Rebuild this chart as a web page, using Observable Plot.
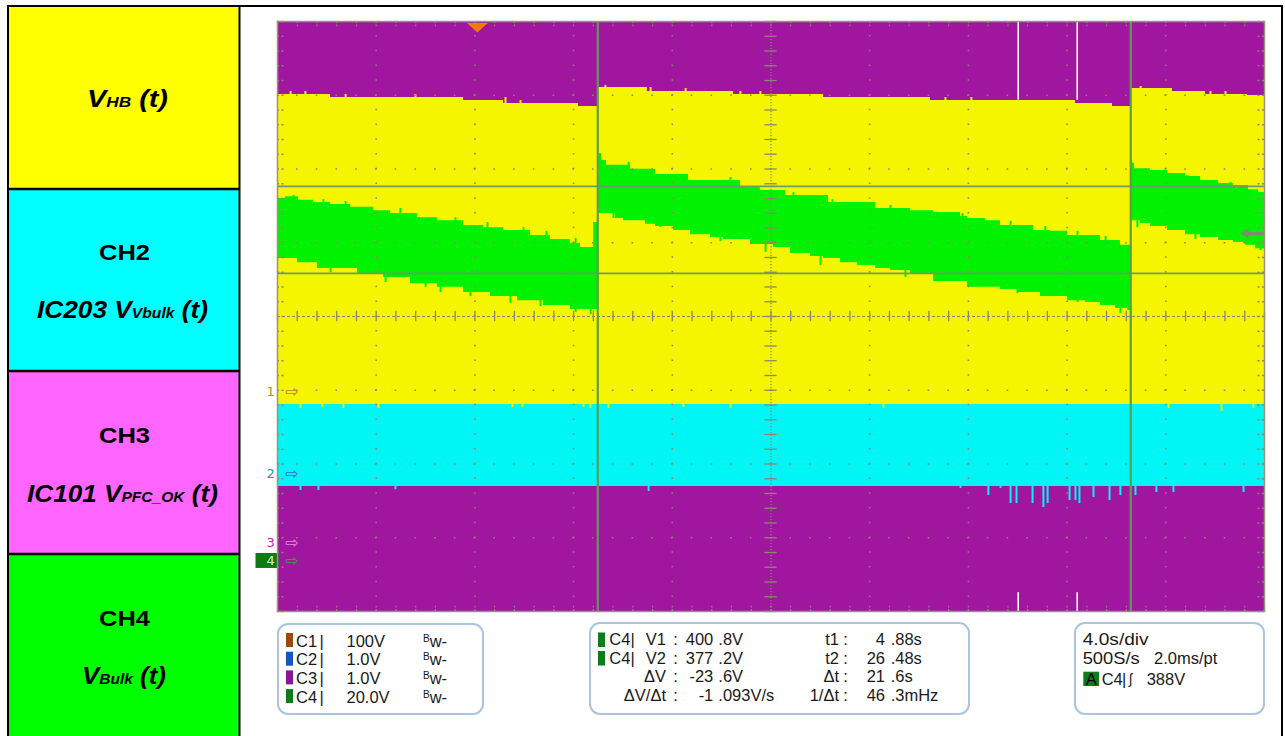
<!DOCTYPE html>
<html>
<head>
<meta charset="utf-8">
<script src="https://cdn.jsdelivr.net/npm/d3@7"></script>
<script src="https://cdn.jsdelivr.net/npm/@observablehq/plot@0.6"></script>
<style>
html, body { margin: 0; padding: 0; background: #ffffff; }
#root { position: relative; width: 1285px; height: 736px; overflow: hidden; }
#scope { position: absolute; left: 250px; top: 15px; width: 1020px; height: 600px; }
#scope svg { display: block; max-width: none; }
</style>
</head>
<body>
<div id="root"><div id="scope"></div></div>
<script>
// ---------------- scope settings ----------------
const timeStart = -8.1;          // s at left edge
const secPerDiv = 4.0;
const divsX = 10, divsY = 8;
const channelNames = ["C1", "C2", "C3", "C4"];
const channelScaleText = ["100V", "1.0V", "1.0V", "20.0V"];
const voltsPerDiv = [100, 1.0, 1.0, 20.0];
const channelZeroDiv = [-1.017, -2.129, -3.064, -3.308];
const c4CenterVolts = 365.5;

// ---------------- C1  V_HB envelope (V) ----------------
const vhbTime = [-8.10, -5.95, -0.56, 1.06, 4.10, 4.88, 6.89, 10.38, 14.03, 18.36, 24.24, 25.74, 26.48, 28.17, 29.51, 31.21, 31.90];
const vhbTop  = [402.7, 398.6, 394.6, 390.5, 386.4, 412.2, 406.8, 402.7, 398.6, 394.6, 390.5, 386.4, 410.9, 406.8, 402.7, 401.4, 401.4];
const vhbLow = -17.6;
const vhbTopSpikeTime  = [-7.57, -6.97, -5.34, -2.51, 1.14, 1.75, 5.19, 7.02, 8.44, 10.66, 11.47, 18.97, 20.02, 26.88, 29.71, 30.32];
const vhbTopSpikeVolts = [406.8, 406.8, 402.7, 402.7, 398.6, 394.6, 415.0, 412.2, 410.9, 406.8, 406.8, 398.6, 398.6, 413.6, 406.8, 406.8];
const vhbLowSpikeTime  = [-7.17, -6.28, -5.43, -4.01, 1.42, 1.83, 4.30, 4.58, 5.31, 8.35, 10.26, 16.46, 28.01, 30.16, 31.45];
const vhbLowSpikeVolts = [-23.0, -21.7, -23.0, -23.0, -21.7, -21.7, -21.7, -23.0, -23.0, -21.7, -23.0, -23.0, -23.0, -27.0, -23.0];

// ---------------- C2  IC203 V_Vbulk envelope (V) ----------------
const c2High = 1.0, c2Low = -0.176;
const c2SpikeTime  = [-7.17, -6.44, -3.32, 6.94, 19.58, 20.71, 21.20, 21.61, 21.85, 22.50, 22.94, 23.11, 24.00, 24.24, 24.40, 24.97, 25.62, 26.06, 26.67, 27.52, 28.21, 31.05];
const c2SpikeVolts = [-0.23, -0.23, -0.22, -0.244, -0.203, -0.298, -0.203, -0.407, -0.407, -0.407, -0.461, -0.407, -0.366, -0.366, -0.407, -0.325, -0.366, -0.298, -0.298, -0.257, -0.257, -0.257];

// ---------------- C4  V_Bulk envelope (V) ----------------
const bulkTime = [-8.10,-7.78,-7.29,-7.25,-6.64,-6.48,-5.95,-5.14,-4.86,-4.21,-3.80,-3.52,-2.71,-2.43,-1.62,-0.56,0.25,0.53,1.06,1.63,2.15,2.68,2.96,3.77,4.18,4.71,
  4.88,5.03,5.23,5.60,5.92,6.21,6.81,7.22,7.95,8.56,8.64,9.45,9.97,10.66,11.07,11.47,12.00,12.49,12.69,13.50,14.03,14.23,14.72,15.41,16.14,16.74,17.55,18.49,19.58,19.86,20.59,21.20,21.89,22.54,22.82,23.23,23.92,24.65,25.25,25.86,26.06,26.35,
  26.48,26.63,26.88,27.28,27.97,28.70,29.31,30.04,30.64,31.13,31.25,31.54,31.66,31.90];
const bulkHigh = [397.5,398.0,398.0,397.0,396.4,396.4,395.9,395.1,395.1,394.2,394.2,393.4,393.4,392.3,391.5,390.2,389.6,389.6,388.8,388.8,387.5,387.5,386.4,385.3,384.2,391.0,
  409.7,407.8,406.5,406.5,406.5,405.4,405.4,404.0,404.0,402.4,402.4,402.4,402.4,400.5,400.5,399.7,399.7,398.3,398.3,398.3,398.3,396.4,396.4,396.4,394.8,394.8,394.2,393.7,392.6,392.1,391.5,390.2,390.2,388.8,388.8,388.6,387.5,387.5,386.1,386.1,384.8,384.8,
  407.0,405.6,405.6,405.1,404.3,403.5,402.4,401.6,401.0,401.0,399.9,399.9,399.1,399.1];
const bulkLow = [381.2,381.2,380.1,380.1,380.1,378.5,378.5,378.5,376.9,376.9,376.1,376.1,374.4,374.4,373.4,372.0,372.0,370.9,370.9,369.8,369.8,368.5,368.5,367.4,367.4,367.4,
  393.4,393.4,393.4,392.1,391.5,391.5,390.5,389.9,388.8,388.8,387.7,386.9,386.4,386.4,385.0,385.0,384.2,384.2,382.6,381.8,381.2,381.2,380.1,379.3,378.5,378.0,376.9,375.0,375.0,373.4,373.4,372.8,372.0,372.0,370.9,370.9,369.8,369.3,368.5,367.7,367.7,367.1,
  391.5,391.5,390.7,389.9,388.8,387.7,386.9,386.1,385.6,384.8,384.8,383.9,383.9,383.9];
const bulkHighSpikeTime  = [-7.45,-6.24,-5.34,-3.12,-0.89,0.41,1.87,2.80,3.98,6.13,10.26,12.81,14.39,16.74,19.66,21.61,23.02,24.32,25.46,26.51,27.16,28.78,30.52];
const bulkHighSpikeVolts = [398.3,397.2,396.7,394.8,392.3,391.0,389.6,388.6,386.7,407.3,403.2,399.1,397.2,395.6,393.4,391.3,389.9,388.6,387.2,407.3,405.4,403.7,401.8];
const bulkLowSpikeTime  = [-5.95,-3.72,-2.10,-1.49,-0.28,1.34,2.56,3.98,4.59,5.52,7.42,9.85,11.68,13.91,17.35,21.89,24.32,26.06,26.75,29.10,31.74];
const bulkLowSpikeVolts = [377.4,374.7,373.4,372.0,370.9,369.0,368.2,366.6,366.0,392.1,389.6,385.8,382.9,379.3,376.1,371.7,369.3,366.3,389.6,386.4,383.4];

// ---------------- glitches, cursors, trigger ----------------
const glitchTimes = [21.92, 24.31];
const glitchTopVolts = 395;     // C1
const glitchBottomVolts = -0.68; // C3
const cursorTimes = [4.88, 26.48];
const cursorVolts = [400.8, 377.2];
const triggerTime = 0;
const triggerLevel = 388;

// ---------------- readout texts ----------------
const measLabels = ["V1", "V2", "\u0394V", "\u0394V/\u0394t"];
const measValues = ["400 .8V", "377 .2V", "-23 .6V", "-1 .093V/s"];
const timeLabels = ["t1", "t2", "\u0394t", "1/\u0394t"];
const timeValues = ["4 .88s", "26 .48s", "21 .6s", "46 .3mHz"];
const timebaseTexts = ["4.0s/div", "500S/s", "2.0ms/pt"];
const triggerText = ["A", "C4", "388V"];
const panelTitles = ["", "CH2", "CH3", "CH4"];
const panelSignals = [["V", "HB", " (t)"], ["IC203 V", "Vbulk", " (t)"], ["IC101 V", "PFC_OK", " (t)"], ["V", "Bulk", " (t)"]];

// ---------------- helpers ----------------
const tEnd = timeStart + divsX * secPerDiv;
const yTop = divsY / 2;
const c1 = v => v / voltsPerDiv[0] + channelZeroDiv[0];
const c2 = v => v / voltsPerDiv[1] + channelZeroDiv[1];
const c3 = v => v / voltsPerDiv[2] + channelZeroDiv[2];
const c4 = v => (v - c4CenterVolts) / voltsPerDiv[3];
const zip = (T, V) => T.map((t, i) => ({t, v: V[i]}));

const vhb = zip(vhbTime, vhbTop);
const bulk = bulkTime.map((t, i) => ({t, hi: bulkHigh[i], lo: bulkLow[i]}));

const PURPLE = "#a0169e", YELLOW = "#f5f500", CYAN = "#00f5f5", GREEN = "#00f200", GRID = "#8a876f";
const minorX = d3.range(0, divsX * 5 + 1).map(i => timeStart + i * secPerDiv / 5);
const minorY = d3.range(0, divsY * 5 + 1).map(i => -yTop + i / 5);
const majorX = d3.range(1, divsX).filter(k => k !== divsX / 2).map(k => timeStart + k * secPerDiv);
const majorY = d3.range(1, divsY).filter(k => k !== divsY / 2).map(k => -yTop + k);
const centerT = timeStart + divsX / 2 * secPerDiv;

const triSymbol = {draw(ctx) { ctx.moveTo(-10.5, -4.5); ctx.lineTo(10.5, -4.5); ctx.lineTo(0, 5); ctx.closePath(); }};
const arrowSymbol = {draw(ctx) { ctx.moveTo(-12, 0); ctx.lineTo(-4, -5); ctx.lineTo(-4, -1.6); ctx.lineTo(12, -1.6); ctx.lineTo(12, 1.6); ctx.lineTo(-4, 1.6); ctx.lineTo(-4, 5); ctx.closePath(); }};
const boxSymbol = {draw(ctx) { ctx.rect(-11.5, -7.5, 23, 15); }};
const markerColors = ["#a89a00", "#1a96ac", "#c020c0", "#d8f0d8"];
const arrowColors = ["#c8783a", "#3a68d8", "#e888e8", "#3aa050"];

const plot = Plot.plot({
  width: 1020, height: 600,
  marginLeft: 27, marginRight: 6, marginTop: 6, marginBottom: 4,
  x: {domain: [timeStart, tEnd], axis: null},
  y: {domain: [-yTop, yTop], axis: null},
  color: {type: "identity"},
  style: {fontFamily: "DejaVu Sans", background: "transparent", overflow: "visible"},
  marks: [
    Plot.frame({fill: PURPLE}),
    // C2 cyan band
    Plot.areaY([timeStart, tEnd], {x: d => d, y1: c2(c2Low), y2: c2(c2High), fill: CYAN}),
    Plot.ruleX(zip(c2SpikeTime, c2SpikeVolts), {x: "t", y1: d => c2(d.v), y2: c2(c2Low + 0.03), stroke: CYAN, strokeWidth: 2}),
    // C1 yellow band
    Plot.areaY(vhb, {x: "t", y1: c1(vhbLow), y2: d => c1(d.v), curve: "step-after", fill: YELLOW}),
    Plot.ruleX(zip(vhbTopSpikeTime, vhbTopSpikeVolts), {x: "t", y1: d => c1(d.v), y2: d => c1(d.v - 16), stroke: YELLOW, strokeWidth: 2}),
    Plot.ruleX(zip(vhbLowSpikeTime, vhbLowSpikeVolts), {x: "t", y1: d => c1(d.v), y2: d => c1(d.v + 10), stroke: YELLOW, strokeWidth: 2}),
    // C4 green band
    Plot.areaY(bulk, {x: "t", y1: d => c4(d.lo), y2: d => c4(d.hi), curve: "step-after", fill: GREEN}),
    Plot.ruleX(zip(bulkHighSpikeTime, bulkHighSpikeVolts), {x: "t", y1: d => c4(d.v), y2: d => c4(d.v - 3), stroke: GREEN, strokeWidth: 2}),
    Plot.ruleX(zip(bulkLowSpikeTime, bulkLowSpikeVolts), {x: "t", y1: d => c4(d.v), y2: d => c4(d.v + 3), stroke: GREEN, strokeWidth: 2}),
    // glitches
    Plot.ruleX(glitchTimes, {x: d => d, y1: c1(glitchTopVolts), y2: yTop, stroke: "white", strokeWidth: 1.6}),
    Plot.ruleX(glitchTimes, {x: d => d, y1: c3(glitchBottomVolts), y2: -yTop, stroke: "white", strokeWidth: 1.6}),
    // graticule
    Plot.ruleX(majorX, {stroke: GRID, strokeWidth: 1.6, strokeDasharray: "1.6,13.15", strokeDashoffset: 0.8}),
    Plot.ruleY(majorY, {stroke: GRID, strokeWidth: 1.6, strokeDasharray: "1.6,18.14", strokeDashoffset: 0.8}),
    Plot.ruleY(minorY, {x1: timeStart, x2: timeStart + 0.3, stroke: GRID, strokeWidth: 1.3, strokeDasharray: "2,2.5"}),
    Plot.ruleY(minorY, {x1: tEnd, x2: tEnd - 0.3, stroke: GRID, strokeWidth: 1.3, strokeDasharray: "2,2.5"}),
    Plot.ruleX(minorX, {y1: yTop, y2: yTop - 0.07, stroke: GRID, strokeWidth: 1.3, strokeDasharray: "2,1.5"}),
    Plot.ruleX(minorX, {y1: -yTop, y2: -yTop + 0.07, stroke: GRID, strokeWidth: 1.3, strokeDasharray: "2,1.5"}),
    Plot.ruleX([centerT], {stroke: GRID, strokeWidth: 1.2, strokeDasharray: "1.2,1.8"}),
    Plot.ruleY([0], {stroke: GRID, strokeWidth: 1.2, strokeDasharray: "3,2"}),
    Plot.ruleY(minorY, {x1: centerT - 0.25, x2: centerT + 0.25, stroke: GRID, strokeWidth: 1.3}),
    Plot.ruleX(minorX, {y1: -0.07, y2: 0.07, stroke: GRID, strokeWidth: 1.3}),
    // cursors
    Plot.ruleY(cursorVolts, {y: d => c4(d), stroke: "#6b9c6a", strokeWidth: 1.6}),
    Plot.ruleX(cursorTimes, {x: d => d, stroke: "#59a04c", strokeWidth: 2.2}),
    // trigger markers
    Plot.dot([triggerTime], {x: d => d, frameAnchor: "top", dy: 6, symbol: triSymbol, fill: "#f27a00"}),
    Plot.dot([triggerLevel], {y: d => c4(d), frameAnchor: "right", dx: -12, symbol: arrowSymbol, fill: "#7d8b70"}),
    // channel markers
    Plot.dot([3], {y: i => channelZeroDiv[i], frameAnchor: "left", dx: -10.5, symbol: boxSymbol, fill: "#0d7a16"}),
    Plot.text([0, 1, 2, 3], {y: i => channelZeroDiv[i], frameAnchor: "left", dx: -11, text: i => String(i + 1), fill: i => markerColors[i], fontSize: 13}),
    Plot.text([0, 1, 2, 3], {y: i => channelZeroDiv[i], frameAnchor: "left", dx: 8, text: () => "\u21E8", fill: i => arrowColors[i], fontSize: 16}),
    Plot.frame({stroke: "#9b9479", strokeWidth: 1.5})
  ]
});
document.getElementById("scope").appendChild(plot);

// ---------------- surrounding layout (panels & readouts) ----------------
const ov = d3.select("#root").insert("svg", "#scope")
  .attr("width", 1285).attr("height", 736)
  .style("position", "absolute").style("left", "0px").style("top", "0px")
  .style("font-family", '"Liberation Sans", Arial, Helvetica, sans-serif');

const panelFill = ["#ffff00", "#00ffff", "#ff66ff", "#00ff00"];
const panelTop = [7, 189, 371, 554], panelBottom = [189, 371, 554, 736];
panelFill.forEach((c, i) => ov.append("rect").attr("x", 8).attr("y", panelTop[i]).attr("width", 231).attr("height", panelBottom[i] - panelTop[i]).attr("fill", c));
function line(x1, y1, x2, y2, w) { ov.append("line").attr("x1", x1).attr("y1", y1).attr("x2", x2).attr("y2", y2).attr("stroke", "#000").attr("stroke-width", w); }
line(7, 6, 1283, 6, 2); line(8, 5, 8, 736, 2); line(239.5, 5, 239.5, 736, 2); line(1282, 5, 1282, 736, 2);
[189, 371, 554].forEach(y => line(8, y, 240, y, 2.4));

function signalText(x, y, parts, len) {
  const t = ov.append("text").attr("x", x).attr("y", y).attr("text-anchor", "middle")
    .attr("font-weight", "bold").attr("font-style", "italic").attr("font-size", 23.5)
    .attr("textLength", len).attr("lengthAdjust", "spacingAndGlyphs").style("white-space", "pre");
  t.append("tspan").text(parts[0]);
  t.append("tspan").attr("font-size", 14).text(parts[1]);
  t.append("tspan").text(parts[2]);
}
function titleText(x, y, s, len) {
  ov.append("text").attr("x", x).attr("y", y).attr("text-anchor", "middle").attr("font-weight", "bold")
    .attr("font-size", 22).attr("textLength", len).attr("lengthAdjust", "spacingAndGlyphs").text(s);
}
signalText(127.5, 107, panelSignals[0], 81);
titleText(124.5, 260, panelTitles[1], 51); signalText(122.5, 318, panelSignals[1], 171);
titleText(124.5, 443, panelTitles[2], 51); signalText(122.5, 502, panelSignals[2], 191);
titleText(124.5, 626, panelTitles[3], 51); signalText(124, 684, panelSignals[3], 84);

function box(x, y, w, h) { ov.append("rect").attr("x", x).attr("y", y).attr("width", w).attr("height", h).attr("rx", 10).attr("fill", "#fff").attr("stroke", "#aac4e2").attr("stroke-width", 2); }
function txt(x, y, s, o = {}) {
  const t = ov.append("text").attr("x", x).attr("y", y).attr("font-size", o.size || 16.5).attr("fill", o.fill || "#1a1a1a").style("white-space", "pre").text(s);
  if (o.anchor) t.attr("text-anchor", o.anchor);
  if (o.len) t.attr("textLength", o.len).attr("lengthAdjust", "spacingAndGlyphs");
  return t;
}
const swatch = ["#9c4a0a", "#1456c0", "#8c1496", "#0c7c1c"];

// box 1: channel settings
box(278, 624, 205, 90);
channelNames.forEach((n, i) => {
  const yb = 646.5 + i * 18.7;
  ov.append("rect").attr("x", 286).attr("y", yb - 13.5).attr("width", 7).attr("height", 14).attr("fill", swatch[i]);
  txt(296, yb, n); txt(319.5, yb, "|");
  txt(346.5, yb, channelScaleText[i]);
  const b = txt(423, yb, "");
  b.append("tspan").attr("font-size", 10).attr("dy", -4.8).text("B");
  b.append("tspan").attr("dy", 4.8).text("w-");
});

// box 2: cursor measurements
box(590, 623, 379, 91);
measLabels.forEach((lab, i) => {
  const yb = 645 + i * 18.5;
  if (i < 2) {
    ov.append("rect").attr("x", 598).attr("y", yb - 12.5).attr("width", 7).attr("height", 14.5).attr("fill", swatch[3]);
    txt(609.3, yb, channelNames[3]); txt(630.5, yb, "|");
  }
  txt(666, yb, lab, {anchor: "end"}); txt(673.3, yb, ":");
  const [a, b] = measValues[i].split(" .");
  txt(713.3, yb, a, {anchor: "end"}); txt(718.3, yb, "." + b);
  txt(839, yb, timeLabels[i], {anchor: "end"}); txt(843.3, yb, ":");
  const [c, d] = timeValues[i].split(" .");
  txt(885, yb, c, {anchor: "end"}); txt(890.7, yb, "." + d);
});

// box 3: timebase / trigger
box(1075, 623, 189, 91);
txt(1082.7, 645, timebaseTexts[0], {len: 66});
txt(1082.7, 663.5, timebaseTexts[1], {len: 57});
txt(1154, 663.5, timebaseTexts[2]);
ov.append("rect").attr("x", 1083.3).attr("y", 671.7).attr("width", 15.7).attr("height", 14.3).attr("fill", swatch[3]);
txt(1091.2, 685, triggerText[0], {anchor: "middle", fill: "#000"});
txt(1101.7, 685, triggerText[1]); txt(1122, 685, "|");
txt(1129, 684, "\u0283", {size: 14});
txt(1146.7, 685, triggerText[2]);
</script>
</body>
</html>
